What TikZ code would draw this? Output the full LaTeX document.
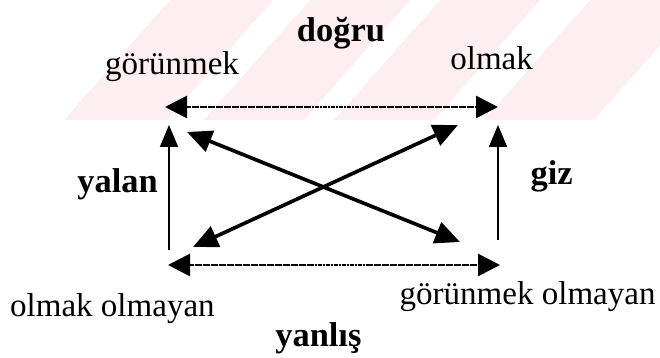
\documentclass[tikz,border=0pt]{standalone}
\usepackage{fontspec}
\setmainfont{Liberation Serif}
\usepackage{tikz}
\usetikzlibrary{arrows.meta}
\definecolor{stripe}{RGB}{253,238,241}

\begin{document}
\begin{tikzpicture}[>={Triangle[length=0.55cm,width=0.55cm]},
  word/.style={anchor=base,inner sep=0pt,font=\fontsize{23.5}{28}\selectfont},
  boldword/.style={word,font=\fontsize{24.5}{29}\selectfont\bfseries},
  hline/.style={<->,line width=2pt,dash pattern=on 1.6pt off 0.3pt},
  vline/.style={->,line width=1.3pt,>={Triangle[length=0.55cm,width=0.45cm]}},
  cross/.style={<->,line width=2.6pt,>={Triangle[length=0.62cm,width=0.55cm]}}]
  \useasboundingbox (0,0) rectangle (16.5,8.95);
  % faint stripes behind the top row
  \begin{scope}
    \clip (0,5.95) rectangle (16.5,8.95);
    \foreach \a/\b in {4.25/6.825,7.75/10.25,11/13.5,14.75/17.5} {
      \fill[stripe] (\a,8.95) -- (\b,8.95) -- ({\b-2.65},5.95) -- ({\a-2.65},5.95) -- cycle;
    }
  \end{scope}
  % texts
  \node[boldword] (dogru) at (8.525,7.9) {doğru};
  \node[word] (gorunmek) at (4.3,7.075) {görünmek};
  \node[word] (olmak) at (12.29,7.2) {olmak};
  \node[boldword] (yalan) at (2.94,4.125) {yalan};
  \node[boldword] (giz) at (13.79,4.325) {giz};
  \node[word] (olmakolmayan) at (2.81,1.025) {olmak olmayan};
  \node[word] (gorunmekolmayan) at (13.19,1.325) {görünmek olmayan};
  \node[boldword] (yanlis) at (7.96,0.275) {yanlış};
  % arrow ends
  \coordinate (topL) at (4.125,6.275);
  \coordinate (topR) at (12.45,6.275);
  \coordinate (botL) at (4.2,2.325);
  \coordinate (botR) at (12.5,2.325);
  \coordinate (leftLo) at (4.225,2.7);
  \coordinate (leftHi) at (4.225,5.825);
  \coordinate (rightLo) at (12.45,2.95);
  \coordinate (rightHi) at (12.45,5.825);
  \coordinate (crossA1) at (4.675,5.65);
  \coordinate (crossA2) at (11.5,2.9);
  \coordinate (crossB1) at (4.825,2.775);
  \coordinate (crossB2) at (11.45,5.825);
  % arrows
  \draw[hline] (topL) -- (topR);
  \draw[hline] (botL) -- (botR);
  \draw[vline] (leftLo) -- (leftHi);
  \draw[vline] (rightLo) -- (rightHi);
  \draw[cross] (crossA1) -- (crossA2);
  \draw[cross] (crossB1) -- (crossB2);
\end{tikzpicture}
\end{document}
